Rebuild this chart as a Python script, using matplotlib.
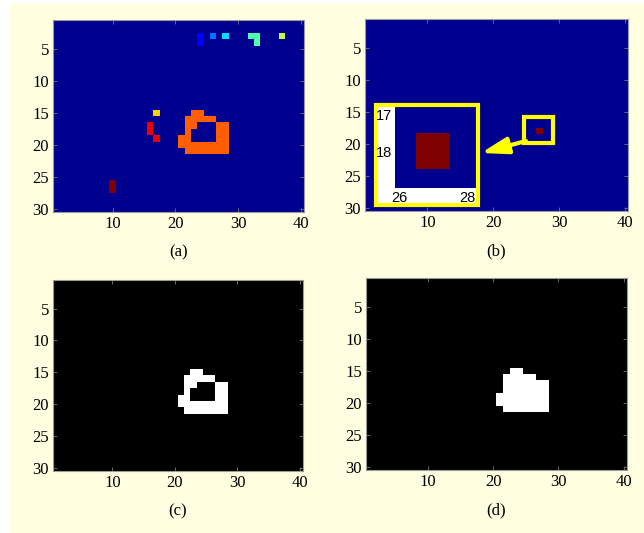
import numpy as np
import matplotlib.pyplot as plt
from matplotlib.colors import ListedColormap
from matplotlib.patches import Rectangle

plt.rcParams['font.family'] = ['Liberation Serif', 'DejaVu Serif']

N_ROWS, N_COLS = 30, 40

# labelled regions, each as runs of (row, first col, last col), 1-based
region_labels = [1, 2, 3, 4, 5, 6, 7, 8, 9]
region_runs = [
    [(3, 24, 24), (4, 24, 24)],
    [(3, 26, 26)],
    [(3, 28, 28)],
    [(3, 32, 33), (4, 33, 33)],
    [(3, 37, 37)],
    [(15, 17, 17)],
    [(15, 23, 24), (16, 22, 26), (17, 22, 23), (17, 27, 28), (18, 22, 22),
     (18, 27, 28), (19, 21, 22), (19, 27, 28), (20, 21, 28), (21, 22, 28)],
    [(17, 16, 16), (18, 16, 16), (19, 17, 17)],
    [(26, 10, 10), (27, 10, 10)],
]

# single detected pixel (row, col)
target_pixel = (18, 27)

# the ring-shaped object after hole filling
filled_runs = [(15, 23, 24), (16, 22, 26), (17, 22, 28), (18, 22, 28),
               (19, 21, 28), (20, 21, 28), (21, 22, 28)]

x_ticks = [10, 20, 30, 40]
y_ticks = [5, 10, 15, 20, 25, 30]
inset_xticks = [26, 28]
inset_yticks = [17, 18]
captions = ['(a)', '(b)', '(c)', '(d)']


def matlab_jet(m=64):
    # same construction as MATLAB's jet(m)
    n = int(np.ceil(m / 4))
    u = np.concatenate([np.arange(1, n + 1) / n, np.ones(n - 1), np.arange(n, 0, -1) / n])
    g = int(np.ceil(n / 2)) - (m % 4 == 1) + np.arange(1, len(u) + 1)
    r, b = g + n, g - n
    cm = np.zeros((m, 3))
    for ch, idx in enumerate([r, g, b]):
        keep = (idx >= 1) & (idx <= m)
        cm[idx[keep] - 1, ch] = u[keep]
    return ListedColormap(cm)


def paint(runs, value, grid):
    for r, c0, c1 in runs:
        grid[r - 1, c0 - 1:c1] = value


labels = np.zeros((N_ROWS, N_COLS))
for lab, runs in zip(region_labels, region_runs):
    paint(runs, lab, labels)

single = np.zeros((N_ROWS, N_COLS))
single[target_pixel[0] - 1, target_pixel[1] - 1] = 1

ring = np.zeros((N_ROWS, N_COLS))
paint(region_runs[6], 1, ring)

filled = np.zeros((N_ROWS, N_COLS))
paint(filled_runs, 1, filled)

jet = matlab_jet()

W, H = 644, 533
fig = plt.figure(figsize=(W / 100, H / 100), dpi=100, facecolor='white')
fig.patches.append(Rectangle((10 / W, 0), 1 - 10 / W, 1 - 4 / H, transform=fig.transFigure,
                             facecolor='#fffee1', edgecolor='none', zorder=-10))


def px_axes(x0, y0, x1, y1, **kw):
    return fig.add_axes([x0 / W, 1 - y1 / H, (x1 - x0) / W, (y1 - y0) / H], **kw)


def style(ax):
    ax.set_xticks(x_ticks)
    ax.set_yticks(y_ticks)
    ax.tick_params(direction='in', length=3, width=0.6, color='#777777',
                   labelsize=12, top=True, right=True, pad=3)
    for s in ax.spines.values():
        s.set_color('#9a9a9a')
        s.set_linewidth(0.8)


ext = (0.5, N_COLS + 0.5, N_ROWS + 0.5, 0.5)
boxes = [(53, 20, 304, 212), (365, 19, 628, 211), (53, 280, 303, 471), (366, 278, 627, 470)]
images = [(labels, jet, 9), (single, jet, 1), (ring, 'gray', 1), (filled, 'gray', 1)]

axes = []
for (x0, y0, x1, y1), (img, cmap, vmax), cap in zip(boxes, images, captions):
    ax = px_axes(x0, y0, x1, y1)
    ax.imshow(img, cmap=cmap, vmin=0, vmax=vmax, extent=ext, aspect='auto',
              interpolation='nearest')
    style(ax)
    fig.text((x0 + x1) / 2 / W, 1 - (y1 + 40) / H, cap, ha='center', va='center', fontsize=12)
    axes.append(ax)

# highlight box around the detected pixel
ax_b = axes[1]
ax_b.add_patch(Rectangle((24.7, 15.8), 4.4, 4.1, fill=False, edgecolor='yellow', lw=3))

# zoomed inset of the detected pixel
fig.patches.append(Rectangle((376 / W, 1 - 205 / H), 102 / W, 100 / H, transform=fig.transFigure,
                             facecolor='white', edgecolor='none', zorder=2))
ax_in = px_axes(395, 105, 477, 188, zorder=5)
ax_in.imshow(single, cmap=jet, vmin=0, vmax=1, extent=ext, aspect='auto',
             interpolation='nearest')
ax_in.set_xlim(25.88, 28.29)
ax_in.set_ylim(19.0, 16.75)
ax_in.set_xticks(inset_xticks)
ax_in.set_yticks(inset_yticks)
ax_in.tick_params(length=0, labelsize=10.5, pad=2)
for lab in ax_in.get_xticklabels() + ax_in.get_yticklabels():
    lab.set_family(['Liberation Sans', 'DejaVu Sans'])
for s in ax_in.spines.values():
    s.set_visible(False)
ax_in.add_patch(Rectangle((376 / W, 1 - 205 / H), 102 / W, 100 / H, transform=fig.transFigure,
                          fill=False, edgecolor='yellow', lw=3, clip_on=False))

ax_b.annotate('', xy=(481 / W, 1 - 153 / H), xytext=(526 / W, 1 - 141 / H),
              xycoords='figure fraction', textcoords='figure fraction',
              arrowprops=dict(arrowstyle='-|>,head_length=0.8,head_width=0.25',
                              color='yellow', lw=3, mutation_scale=20,
                              shrinkA=0, shrinkB=0))

fig.savefig('out.png', dpi=100, facecolor=fig.get_facecolor())
